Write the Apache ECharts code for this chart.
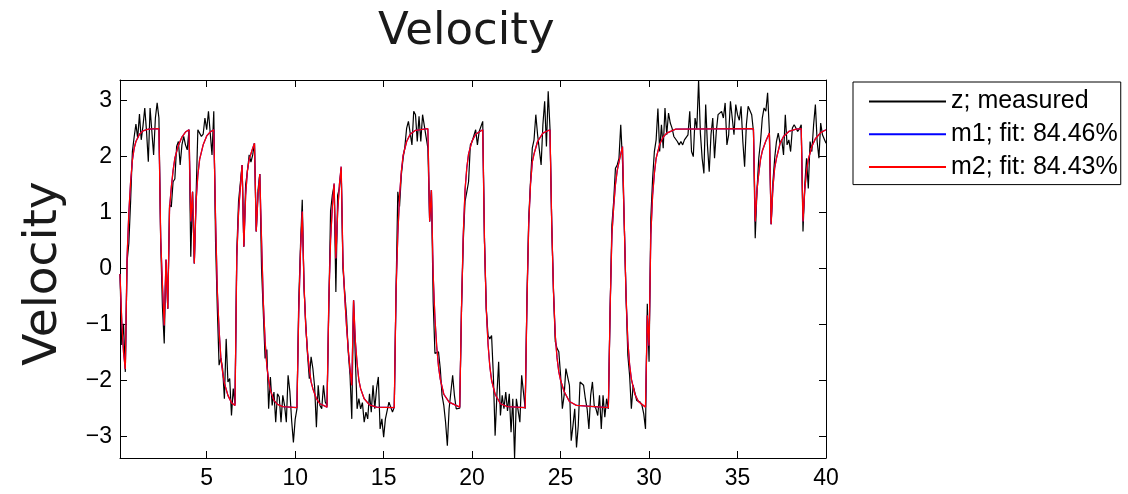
<!DOCTYPE html>
<html><head><meta charset="utf-8">
<script src="https://cdn.jsdelivr.net/npm/echarts@6/dist/echarts.min.js"></script>
<style>html,body{margin:0;padding:0;background:#fff}#c{width:1128px;height:494px}</style>
</head><body><div id="c"></div>
<script>
// sample times: 0.1 .. 40.0 step 0.1
const tStart = 0.1, tStep = 0.1;
const zMeasured = [
-0.10,-1.37,-0.99,-1.85,0.12,0.45,1.20,2.09,2.35,2.58,
2.33,2.76,2.30,2.55,2.87,2.45,1.91,2.87,2.45,2.03,
2.69,2.96,2.69,0.45,-0.70,-1.34,0.15,-0.72,1.14,1.10,
1.55,1.60,2.18,2.27,1.85,2.21,2.36,2.21,2.12,2.48,
0.21,1.37,0.09,1.30,2.48,2.42,2.36,2.40,2.69,2.48,
2.81,2.82,2.03,2.81,0.48,-0.72,-1.73,-1.60,-1.79,-2.33,
-1.26,-2.03,-1.97,-2.63,-2.15,-2.42,0.30,1.20,1.17,1.85,
0.39,1.50,1.73,2.03,1.90,2.03,2.24,0.66,1.40,1.69,
0.00,-0.80,-1.61,-1.45,-2.51,-1.94,-2.45,-2.21,-2.75,-2.24,
-2.30,-2.75,-2.27,-2.45,-2.75,-1.91,-2.20,-2.72,-3.11,-2.70,
-2.51,-0.60,0.40,1.23,-0.35,-1.00,-1.55,-1.97,-1.58,-1.79,
-2.12,-2.84,-2.09,-2.45,-2.51,-2.09,-2.39,-2.45,-0.72,1.02,
1.31,1.49,-0.42,1.31,1.43,1.79,0.00,0.00,-0.84,-1.50,
-1.91,-2.69,-0.57,-1.61,-2.51,-2.33,-2.51,-2.40,-2.75,-2.57,
-2.69,-2.24,-2.57,-2.09,-2.51,-2.15,-1.94,-2.87,-2.69,-3.02,
-2.69,-2.69,-2.39,-2.36,-2.57,-2.48,-0.42,1.37,1.11,1.67,
1.97,2.18,2.51,2.63,2.63,2.21,2.81,2.75,2.27,2.72,
2.27,2.75,2.75,2.35,2.15,0.84,1.40,-0.60,-1.52,-1.49,
-1.49,-1.79,-2.27,-2.45,-2.75,-3.17,-2.51,-2.21,-1.91,-2.27,
-2.51,-2.48,-2.50,-0.72,0.48,1.20,1.37,1.55,2.21,2.27,
2.30,2.48,2.21,2.45,2.48,2.63,0.48,-0.72,-1.20,-1.26,
-1.20,-1.91,-2.99,-2.27,-1.67,-2.63,-2.27,-2.51,-2.21,-2.55,
-2.24,-2.93,-2.33,-3.39,-2.33,-2.36,-2.75,-1.91,-2.21,-2.51,
-0.50,0.90,1.55,2.15,2.30,2.75,2.39,2.42,1.85,2.57,
2.99,2.18,3.17,2.51,0.78,-0.42,-1.31,-1.43,-1.49,-1.91,
-2.51,-2.27,-1.79,-1.79,-2.09,-3.08,-2.81,-2.51,-3.20,-2.81,
-2.03,-2.06,-2.09,-2.33,-2.51,-2.87,-2.27,-2.03,-2.45,-2.51,
-2.63,-2.27,-2.87,-2.27,-2.66,-2.33,-2.51,-0.72,0.78,1.20,
1.79,1.85,1.97,2.57,1.90,0.78,-0.50,-1.55,-1.91,-2.51,
-2.09,-2.09,-2.36,-2.36,-2.39,-2.45,-2.60,-2.87,-0.63,-1.67,
0.90,1.60,2.09,2.30,2.86,2.09,2.57,2.15,2.87,2.39,
2.78,2.60,2.51,2.36,2.39,2.27,2.21,2.27,2.21,2.30,
2.27,2.39,2.81,2.09,2.00,2.69,2.50,3.37,2.42,1.97,
1.70,2.93,2.20,1.73,2.39,2.69,1.97,2.45,2.75,2.78,
2.81,2.69,2.96,2.21,2.39,2.99,2.69,2.39,2.93,2.75,
2.65,2.90,2.27,1.82,2.57,2.90,2.87,2.75,2.45,0.54,
1.40,1.97,2.27,2.69,2.87,2.81,3.14,2.45,0.79,1.55,
1.97,2.27,2.42,2.24,2.30,2.03,2.75,2.21,2.30,2.09,
2.51,2.57,2.51,2.45,2.50,2.57,0.66,1.49,1.97,1.43,
2.27,2.09,2.57,2.93,2.27,1.97,2.60,2.39,2.36,2.24
];
// simulated model outputs [t, value]
const m1Fit = [
[0.1,-0.1],[0.2,-0.95],[0.3,-1.5],[0.4,-1.8],[0.5,0.2],[0.6,1.0],[0.7,1.55],[0.8,1.93],[0.9,2.15],[1.0,2.27],[1.2,2.4],[1.4,2.46],[1.7,2.49],[2.3,2.5],
[2.4,0.54],[2.5,-0.3],[2.6,-1.02],[2.7,0.16],[2.8,-0.72],[2.9,1.08],[3.0,1.45],[3.1,1.75],[3.2,1.97],[3.4,2.2],[3.6,2.35],[3.8,2.44],[4.0,2.48],
[4.1,0.84],[4.2,1.37],[4.3,0.09],[4.4,1.2],[4.5,1.67],[4.6,1.95],[4.8,2.21],[5.0,2.37],[5.2,2.44],[5.4,2.48],
[5.5,0.9],[5.6,-0.4],[5.7,-1.1],[5.8,-1.6],[5.9,-1.85],[6.0,-2.05],[6.2,-2.27],[6.4,-2.4],[6.6,-2.45],
[6.7,0.2],[6.8,1.0],[6.9,1.45],[7.0,1.85],[7.1,0.39],[7.2,1.3],[7.3,1.75],[7.4,1.95],[7.5,2.05],[7.6,2.15],[7.7,2.24],[7.8,0.66],[7.9,1.3],[8.0,1.69],
[8.1,0.5],[8.2,-0.6],[8.3,-1.3],[8.4,-1.75],[8.5,-2.0],[8.6,-2.18],[8.8,-2.36],[9.0,-2.43],[9.3,-2.47],[10.1,-2.49],
[10.2,-0.8],[10.3,0.3],[10.4,1.02],[10.5,-0.3],[10.6,-1.05],[10.7,-1.5],[10.8,-1.8],[10.9,-2.03],[11.0,-2.15],[11.2,-2.33],[11.4,-2.42],[11.8,-2.48],
[11.9,-0.6],[12.0,0.5],[12.1,1.1],[12.2,1.52],[12.3,0.18],[12.4,1.0],[12.5,1.5],[12.6,1.82],[12.7,0.12],[12.8,-0.5],[12.9,-1.02],[13.0,-1.45],[13.1,-1.8],[13.2,-2.09],
[13.3,-0.57],[13.4,-1.3],[13.5,-1.7],[13.6,-2.0],[13.7,-2.15],[13.9,-2.33],[14.2,-2.44],[14.6,-2.48],[15.6,-2.49],
[15.7,-0.42],[15.8,0.6],[15.9,1.3],[16.0,1.73],[16.1,2.02],[16.3,2.27],[16.5,2.4],[16.8,2.47],[17.5,2.5],
[17.6,0.84],[17.7,1.4],[17.8,-0.12],[17.9,-0.9],[18.0,-1.4],[18.1,-1.75],[18.2,-1.98],[18.4,-2.25],[18.7,-2.39],[19.3,-2.48],
[19.4,-0.72],[19.5,0.6],[19.6,1.4],[19.7,1.8],[19.8,2.05],[20.0,2.28],[20.2,2.4],[20.6,2.48],
[20.7,0.48],[20.8,-0.72],[20.9,-1.35],[21.0,-1.75],[21.1,-2.0],[21.3,-2.25],[21.6,-2.42],[22.0,-2.47],[23.0,-2.49],
[23.1,-0.6],[23.2,0.8],[23.3,1.5],[23.4,1.9],[23.5,2.05],[23.7,2.27],[24.0,2.42],[24.4,2.48],
[24.5,0.78],[24.6,-0.42],[24.7,-1.2],[24.8,-1.6],[24.9,-1.85],[25.0,-2.0],[25.2,-2.2],[25.5,-2.38],[25.9,-2.45],[27.7,-2.49],
[27.8,-0.72],[27.9,0.6],[28.0,1.1],[28.1,1.5],[28.2,1.75],[28.3,1.9],[28.4,2.05],[28.5,2.18],
[28.6,0.78],[28.7,-0.5],[28.8,-1.3],[28.9,-1.72],[29.0,-1.98],[29.2,-2.25],[29.4,-2.38],[29.8,-2.48],
[29.9,-0.84],[30.0,-1.38],[30.1,0.6],[30.2,1.3],[30.3,1.7],[30.4,1.97],[30.6,2.22],[30.8,2.35],[31.0,2.42],[31.5,2.49],[35.9,2.5],
[36.0,0.84],[36.1,1.4],[36.2,1.7],[36.3,1.95],[36.4,2.1],[36.6,2.28],[36.8,2.42],
[36.9,0.79],[37.0,1.45],[37.1,1.8],[37.2,1.97],[37.4,2.23],[37.6,2.36],[37.9,2.45],[38.3,2.49],[38.6,2.5],
[38.7,0.84],[38.8,1.4],[38.9,1.75],[39.0,1.95],[39.2,2.18],[39.4,2.32],[39.7,2.43],[40.0,2.48]
];
const m2Fit = m1Fit;
const xTicks = [5,10,15,20,25,30,35,40];
const yTicks = [-3,-2,-1,0,1,2,3];
const seriesNames = ['z; measured','m1; fit: 84.46%','m2; fit: 84.43%'];

const zData = zMeasured.map((v,i)=>[Math.round((tStart+i*tStep)*10)/10, v]);
const X_MIN = 0.1, X_MAX = 40, Y_MIN = -3.39, Y_MAX = 3.37;
const tickFont = 'Liberation Sans, Arial, sans-serif';
const titleFont = 'DejaVu Sans';

function xAx(pos, labels){
  return {type:'value', min:X_MIN, max:X_MAX, position:pos,
    axisLine:{show:true, onZero:false, lineStyle:{color:'#000', width:1}},
    axisTick:{show:true, inside:true, length:7, customValues:xTicks, lineStyle:{color:'#000', width:1}},
    axisLabel:{show:labels, customValues:xTicks, fontSize:23, fontFamily:tickFont, color:'#000', margin:9},
    splitLine:{show:false}};
}
function yAx(pos, labels){
  const a = {type:'value', min:Y_MIN, max:Y_MAX, position:pos,
    axisLine:{show:true, onZero:false, lineStyle:{color:'#000', width:1}},
    axisTick:{show:true, inside:true, length:7, customValues:yTicks, lineStyle:{color:'#000', width:1}},
    axisLabel:{show:labels, customValues:yTicks, fontSize:23, fontFamily:tickFont, color:'#000', margin:8,
      formatter:v=>String(v).replace('-','\u2212')},
    splitLine:{show:false}};
  if (labels) {
    a.name = 'Velocity'; a.nameLocation = 'middle'; a.nameGap = 53; a.nameRotate = 90;
    a.nameTextStyle = {fontFamily:titleFont, fontSize:47, color:'#1a1a1a', padding:[0,9,0,0]};
  }
  return a;
}

const chart = echarts.init(document.getElementById('c'), null, {renderer:'canvas'});
chart.setOption({
  animation:false,
  backgroundColor:'#fff',
  title:{text:'Velocity', left:373, top:5, textStyle:{fontFamily:titleFont, fontSize:45, fontWeight:'normal', color:'#1a1a1a'}},
  grid:{left:120, right:302, top:80, bottom:36},
  xAxis:[xAx('bottom', true), xAx('top', false)],
  yAxis:[yAx('left', true), yAx('right', false)],
  legend:{orient:'vertical', left:853, top:82, itemWidth:77, itemHeight:24, itemGap:7.8,
    padding:[7,3,5,15], borderColor:'#000', borderWidth:1, borderRadius:0, backgroundColor:'#fff',
    selectedMode:false,
    itemStyle:{opacity:0},
    textStyle:{fontFamily:tickFont, fontSize:25, color:'#000'},
    data:seriesNames},
  series:[
    {name:seriesNames[0], type:'line', data:zData, symbol:'none', lineStyle:{color:'#000', width:1.2}, itemStyle:{color:'#000'}, z:2},
    {name:seriesNames[1], type:'line', data:m1Fit, symbol:'none', lineStyle:{color:'#0000ff', width:1.2}, itemStyle:{color:'#0000ff'}, z:3},
    {name:seriesNames[2], type:'line', data:m2Fit, symbol:'none', lineStyle:{color:'#ff0000', width:1.3}, itemStyle:{color:'#ff0000'}, z:4}
  ]
});
</script></body></html>
